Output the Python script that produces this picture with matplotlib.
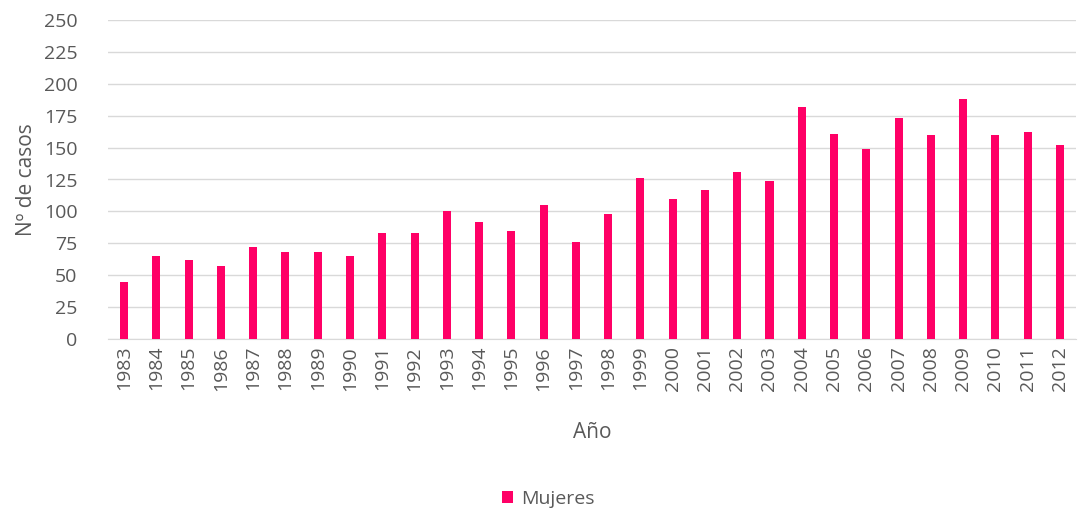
import matplotlib.pyplot as plt
import numpy as np

plt.rcParams['font.family'] = ['Open Sans', 'DejaVu Sans']

years = [str(y) for y in range(1983, 2013)]
mujeres = [45, 65, 62, 57, 72, 68, 68, 65, 83, 83,
           100, 92, 85, 105, 76, 98, 126, 110, 117, 131,
           124, 182, 161, 149, 173, 160, 188, 160, 162, 152]

gris = '#595959'

fig = plt.figure(figsize=(10.78, 5.11), dpi=100)
ax = fig.add_axes([108 / 1078, 1 - 339 / 511, 968 / 1078, 319 / 511])

x = np.arange(len(years))
ax.bar(x, mujeres, width=0.25, color='#FF0066', label='Mujeres', zorder=3)

ax.set_xlim(-0.5, len(years) - 0.5)
ax.set_ylim(0, 250)
ax.set_yticks(range(0, 251, 25))
ax.set_xticks(x)
ax.set_xticklabels(years, rotation=90)
ax.tick_params(length=0, labelsize=14, labelcolor=gris)
ax.tick_params(axis='x', pad=5)
ax.tick_params(axis='y', pad=22)
ax.grid(axis='y', color='#d9d9d9', linewidth=1, zorder=0)
for s in ['top', 'right', 'left']:
    ax.spines[s].set_visible(False)
ax.spines['bottom'].set_color('#d9d9d9')

ax.set_xlabel('Año', fontsize=15, color=gris, labelpad=22)
ax.set_ylabel('Nº de casos', fontsize=15, color=gris, labelpad=5)

fig.legend(loc='center', bbox_to_anchor=(548 / 1078, 1 - 499 / 511), frameon=False,
           fontsize=14, labelcolor=gris, handlelength=0.6, handleheight=0.6,
           handletextpad=0.4)

fig.savefig('out.png', dpi=100)
